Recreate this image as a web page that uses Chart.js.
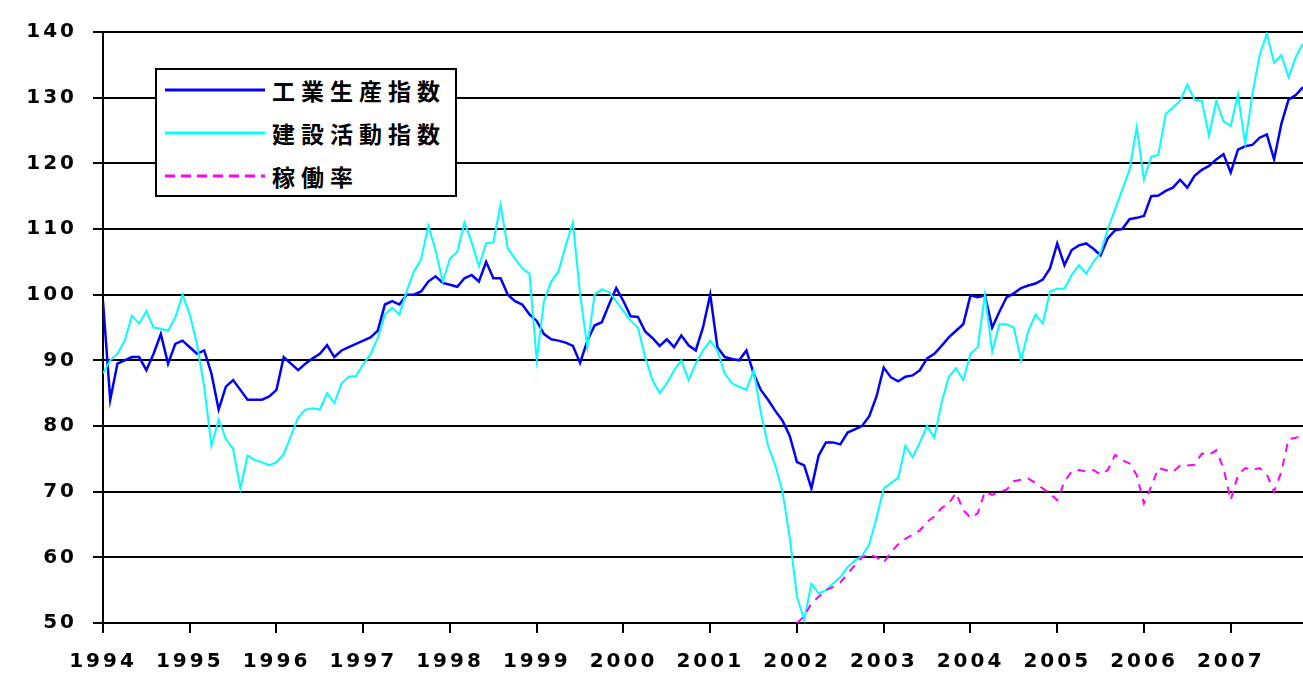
<!DOCTYPE html>
<html lang="ja">
<head>
<meta charset="utf-8">
<title>工業生産指数・建設活動指数・稼働率</title>
<script src="https://cdn.jsdelivr.net/npm/chart.js@4"></script>
<style>
  html, body { margin: 0; padding: 0; background: #fff; }
  #wrap { position: relative; width: 1303px; height: 674px; }
  #legend {
    position: absolute; left: 155px; top: 68px; width: 298px; height: 125px;
    border: 2px solid #000; background: #fff;
    font-family: "Noto Sans CJK JP", sans-serif; font-weight: bold;
    font-size: 23px; letter-spacing: 6px; color: #000;
  }
  .row { position: absolute; left: 8px; height: 30px; display: flex; align-items: center; white-space: nowrap; }
  .row svg { width: 100px; height: 6px; margin-right: 7px; }
</style>
</head>
<body>
<div id="wrap">
  <canvas id="chart" width="1303" height="674"></canvas>
  <div id="legend"></div>
</div>
<script>
// months counted from 1994-01
const yearLabels = ['1994','1995','1996','1997','1998','1999','2000','2001','2002','2003','2004','2005','2006','2007'];

const industrialProduction = [
  99, 84, 89.5, 90, 90.5, 90.5, 88.5, 91, 94, 89.5, 92.5, 93,          // 1994
  92, 91, 91.5, 88, 82.5, 86, 87, 85.5, 84, 84, 84, 84.5,              // 1995
  85.5, 90.5, 89.5, 88.5, 89.5, 90.3, 91, 92.3, 90.5, 91.5, 92, 92.5,  // 1996
  93, 93.5, 94.5, 98.5, 99, 98.5, 100, 100, 100.5, 102, 102.8, 101.8,  // 1997
  101.5, 101.2, 102.5, 103, 102, 105, 102.5, 102.5, 100, 99, 98.5, 97, // 1998
  96, 94, 93.2, 93, 92.7, 92.2, 89.6, 93, 95.3, 95.8, 98.5, 101,       // 1999
  99, 96.7, 96.6, 94.4, 93.4, 92.2, 93.2, 92, 93.8, 92.3, 91.5, 95,    // 2000
  100, 92, 90.5, 90.2, 90, 91.5, 88, 85.5, 84, 82.3, 80.8, 78.5,       // 2001
  74.5, 74, 70.5, 75.5, 77.5, 77.5, 77.2, 79, 79.5, 80, 81.5, 84.5,    // 2002
  88.9, 87.4, 86.8, 87.5, 87.7, 88.5, 90.3, 91, 92.2, 93.5, 94.5, 95.5, // 2003
  99.9, 99.6, 99.9, 95, 97.4, 99.6, 100.2, 101, 101.4, 101.7, 102.3, 104, // 2004
  107.8, 104.5, 106.8, 107.5, 107.8, 107, 106, 108.6, 109.8, 110, 111.5, 111.7, // 2005
  112, 115, 115.1, 115.8, 116.3, 117.5, 116.3, 118.1, 119, 119.6, 120.6, 121.4, // 2006
  118.6, 122.1, 122.6, 122.8, 123.9, 124.4, 120.6, 126, 129.7, 130.4, 131.6     // 2007
];

const constructionActivity = [
  88, 90, 91, 93, 96.8, 95.6, 97.5, 95, 94.8, 94.5, 96.5, 100,         // 1994
  97, 92.5, 86, 77, 81, 78, 76.5, 70.5, 75.5, 74.8, 74.5, 74,          // 1995
  74.5, 75.7, 78.5, 81.3, 82.5, 82.7, 82.5, 85, 83.5, 86.5, 87.5, 87.6, // 1996
  89.4, 90.9, 93.4, 97, 98, 97, 100.5, 103.5, 105.4, 110.5, 106.8, 102, // 1997
  105.5, 106.5, 111, 108, 104.3, 107.8, 108, 113.7, 107, 105.5, 104, 103.2, // 1998
  90, 99, 102, 103.5, 107.5, 111, 100, 92, 100, 100.8, 100.4, 99,      // 1999
  97.5, 96, 95, 90.5, 87, 85, 86.5, 88.5, 90, 87, 89.5, 91.5,          // 2000
  93, 91.5, 88, 86.5, 86, 85.5, 88.5, 82, 77, 74, 70, 63,              // 2001
  54, 50.5, 56, 54.5, 55, 56, 57, 58.5, 59.5, 60.2, 62, 66,            // 2002
  70.5, 71.3, 72.1, 77, 75.2, 77.5, 80, 78.2, 83.5, 87.5, 88.8, 87,    // 2003
  91, 92, 100, 91.3, 95.5, 95.5, 95, 90, 94.5, 97, 95.6, 100.5,        // 2004
  100.9, 100.9, 103, 104.5, 103.2, 105, 106.4, 110, 113, 116, 119, 125.5, // 2005
  117.5, 121, 121.3, 127.5, 128.5, 129.5, 132, 129.7, 129.5, 124.2, 129.5, 126.4, // 2006
  125.7, 130.5, 123, 130.5, 136.5, 139.7, 135.3, 136.5, 133.1, 136.2, 138.2       // 2007
];

// 稼働率 begins in 2002-01 (month 96)
const utilizationStart = 96;
const utilizationRate = [
  50, 51, 53, 54, 55, 55.5, 56.2, 57.5, 58.8, 60, 60.5, 60,            // 2002
  59.2, 60.8, 62, 62.8, 63.5, 64.1, 65.4, 66.2, 67.5, 68.2, 69.8, 67.2, // 2003
  66, 66.7, 70, 69.5, 70, 70.3, 71.6, 71.8, 72, 71.3, 70.5, 69.7,      // 2004
  68.7, 71.5, 73.1, 73.3, 73.1, 73.3, 72.6, 73.3, 75.6, 74.8, 74.3, 72.5, // 2005
  68.2, 70.8, 73.6, 73.3, 73, 74, 74, 74.1, 75.8, 75.6, 76.3, 73.6,    // 2006
  68.7, 72.5, 73.6, 73.3, 73.6, 72.6, 70, 73, 78, 78.2, 78.6           // 2007
];

const seriesNames = ['工業生産指数', '建設活動指数', '稼働率'];
const seriesColors = ['#0000ff', '#00ffff', '#ff00ff'];
const seriesDash = [[], [], [8, 7]];

const toPoints = (arr, offset) => arr.map((v, i) => ({ x: i + offset, y: v }));

// legend (html, inside the plot like the original)
const legend = document.getElementById('legend');
seriesNames.forEach((name, i) => {
  const row = document.createElement('div');
  row.className = 'row';
  row.style.top = (5 + i * 43) + 'px';
  const dash = seriesDash[i].length ? ' stroke-dasharray="10 6"' : '';
  row.innerHTML = '<svg viewBox="0 0 100 6"><line x1="0" y1="3" x2="100" y2="3" stroke="' +
    seriesColors[i] + '" stroke-width="3"' + dash + '/></svg><span>' + name + '</span>';
  legend.appendChild(row);
});

const spacing = {
  id: 'spacing',
  beforeLayout(chart) { chart.ctx.letterSpacing = '3px'; },
  beforeDraw(chart) { chart.ctx.letterSpacing = '3px'; }
};

Chart.defaults.font.family = 'DejaVu Sans';
Chart.defaults.font.size = 20;
Chart.defaults.font.weight = 'bold';
Chart.defaults.color = '#000';

new Chart(document.getElementById('chart'), {
  type: 'line',
  data: {
    datasets: [
      {
        label: seriesNames[0],
        data: toPoints(industrialProduction, 0),
        borderColor: seriesColors[0],
        borderWidth: 2.5,
        order: 3
      },
      {
        label: seriesNames[1],
        data: toPoints(constructionActivity, 0),
        borderColor: seriesColors[1],
        borderWidth: 2,
        order: 2
      },
      {
        label: seriesNames[2],
        data: toPoints(utilizationRate, utilizationStart),
        borderColor: seriesColors[2],
        borderWidth: 2,
        borderDash: seriesDash[2],
        order: 1
      }
    ]
  },
  plugins: [spacing],
  options: {
    responsive: false,
    devicePixelRatio: 1,
    animation: false,
    elements: { point: { radius: 0 }, line: { tension: 0 } },
    layout: { padding: { top: 32, right: 0, left: 0, bottom: 0 } },
    plugins: { legend: { display: false }, tooltip: { enabled: false } },
    scales: {
      x: {
        type: 'linear',
        min: 0,
        max: 166,
        afterBuildTicks: axis => {
          axis.ticks = axis.ticks.filter(t => t.value % 12 === 0);
        },
        afterFit: scale => { scale.height = 51; },
        ticks: {
          stepSize: 12,
          maxRotation: 0,
          autoSkip: false,
          padding: 17,
          callback: v => yearLabels[v / 12]
        },
        grid: { drawOnChartArea: false, tickLength: 10, color: '#000', lineWidth: 2 },
        border: { color: '#000', width: 2 }
      },
      y: {
        min: 50,
        max: 140,
        afterFit: scale => { scale.width = 103; },
        ticks: { stepSize: 10, padding: 16 },
        grid: { color: '#000', lineWidth: 2, tickLength: 10 },
        border: { color: '#000', width: 2 }
      }
    }
  }
});
</script>
</body>
</html>
